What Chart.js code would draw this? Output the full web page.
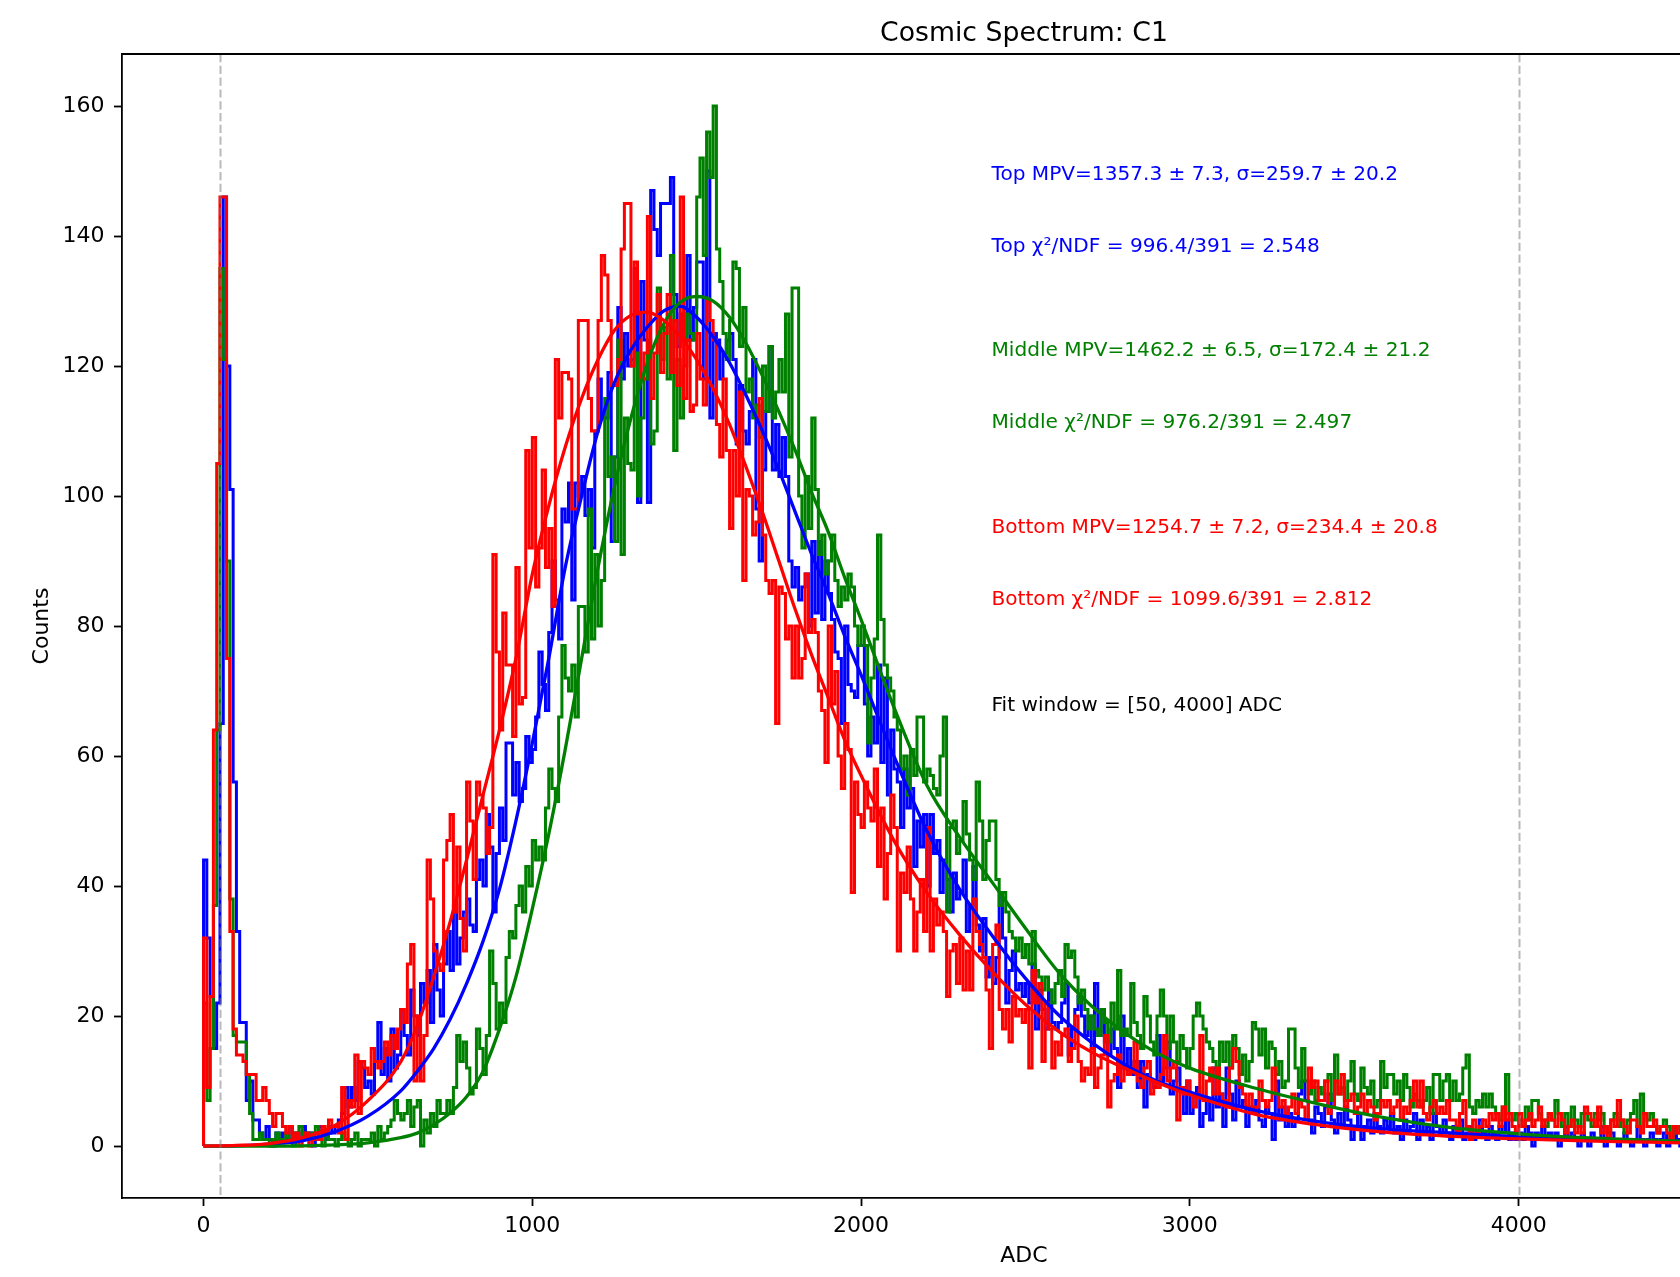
<!DOCTYPE html>
<html>
<head>
<meta charset="utf-8">
<title>Cosmic Spectrum: C1</title>
<script src="https://cdn.jsdelivr.net/npm/chart.js@4.4.0/dist/chart.umd.min.js"></script>
<style>
    html, body { margin: 0; padding: 0; background: #ffffff; overflow: hidden; }
    #wrap { width: 1680px; height: 1277px; overflow: hidden; }
    canvas { display: block; }
</style>
</head>
<body>
<div id="wrap"><canvas id="spectrumCanvas" width="1950" height="1277"></canvas></div>
<script>
// histogram bins are 10 ADC wide, starting at 0 (one row = 100 ADC)
const binWidth = 10;

const topCounts = [
    44, 32, 23, 15, 22, 65, 146, 120, 101, 56,
    33, 19, 19, 7, 10, 4, 4, 2, 1, 3,
    1, 0, 2, 1, 2, 1, 3, 1, 2, 1,
    3, 1, 2, 0, 1, 3, 2, 1, 3, 2,
    3, 4, 5, 9, 6, 9, 7, 13, 12, 9,
    10, 8, 13, 19, 11, 15, 10, 18, 12, 14,
    21, 17, 14, 24, 20, 17, 25, 22, 27, 19,
    31, 24, 20, 28, 33, 27, 37, 28, 32, 36,
    38, 34, 33, 41, 44, 40, 51, 46, 36, 45,
    52, 47, 62, 62, 54, 59, 53, 55, 63, 59,
    61, 66, 76, 71, 67, 79, 90, 84, 78, 98,
    96, 102, 84, 102, 100, 103, 97, 101, 92, 110,
    118, 112, 112, 119, 93, 106, 129, 118, 125, 120,
    121, 135, 99, 133, 124, 99, 147, 141, 137, 145,
    145, 145, 149, 131, 123, 128, 124, 137, 124, 129,
    136, 136, 118, 150, 112, 125, 124, 118, 122, 124,
    125, 121, 108, 117, 110, 108, 113, 121, 98, 90,
    104, 113, 123, 104, 111, 103, 109, 103, 90, 86,
    89, 84, 86, 88, 80, 93, 82, 93, 81, 90,
    85, 81, 76, 75, 65, 80, 71, 70, 69, 77,
    77, 68, 60, 66, 62, 74, 59, 72, 54, 64,
    58, 56, 49, 58, 52, 55, 43, 50, 46, 51,
    40, 51, 45, 47, 39, 44, 41, 36, 42, 38,
    39, 44, 33, 37, 43, 34, 30, 35, 26, 29,
    25, 29, 39, 32, 22, 27, 30, 24, 25, 23,
    25, 22, 28, 18, 24, 21, 18, 24, 19, 18,
    19, 22, 25, 14, 18, 21, 23, 20, 17, 20,
    15, 25, 17, 21, 16, 14, 18, 15, 9, 20,
    12, 15, 11, 13, 9, 13, 6, 11, 10, 9,
    17, 10, 12, 16, 8, 10, 12, 9, 5, 10,
    5, 8, 9, 3, 5, 7, 4, 12, 6, 8,
    3, 12, 8, 4, 10, 6, 7, 3, 6, 5,
    7, 4, 3, 6, 5, 1, 10, 4, 6, 3,
    5, 3, 4, 8, 10, 7, 4, 2, 6, 5,
    3, 6, 8, 4, 2, 5, 3, 6, 4, 1,
    3, 5, 1, 3, 4, 2, 5, 3, 2, 4,
    3, 5, 2, 3, 1, 4, 2, 3, 5, 1,
    4, 2, 3, 1, 5, 3, 2, 4, 2, 1,
    3, 2, 4, 1, 2, 3, 1, 2, 4, 2,
    1, 3, 2, 1, 3, 2, 4, 1, 2, 1,
    2, 1, 3, 2, 0, 2, 1, 3, 1, 2,
    1, 2, 0, 1, 3, 1, 2, 1, 0, 2,
    1, 0, 2, 1, 1, 3, 0, 1, 2, 1,
    0, 1, 2, 1, 0, 1, 3, 1, 0, 1,
    2, 1, 0, 1, 2, 0, 1, 3, 1, 0
];

const middleCounts = [
    22, 7, 15, 37, 64, 135, 121, 90, 38, 17,
    16, 16, 16, 11, 5, 1, 1, 2, 1, 1,
    0, 1, 2, 1, 1, 2, 1, 0, 2, 3,
    1, 2, 1, 2, 3, 1, 0, 2, 1, 1,
    0, 1, 2, 1, 0, 1, 2, 0, 1, 1,
    1, 2, 0, 3, 1, 2, 3, 4, 7, 5,
    4, 5, 7, 3, 6, 7, 0, 4, 2, 5,
    3, 7, 5, 5, 7, 5, 9, 17, 13, 16,
    12, 8, 9, 18, 15, 11, 17, 30, 25, 18,
    22, 19, 29, 33, 32, 37, 40, 36, 43, 40,
    47, 44, 46, 44, 52, 58, 55, 53, 66, 77,
    72, 70, 74, 66, 83, 83, 76, 98, 78, 91,
    80, 87, 115, 103, 106, 93, 124, 91, 112, 105,
    104, 122, 100, 112, 118, 124, 108, 110, 132, 121,
    126, 118, 137, 107, 121, 112, 120, 128, 125, 124,
    146, 152, 137, 156, 149, 160, 138, 133, 125, 121,
    127, 136, 135, 123, 129, 116, 118, 112, 114, 109,
    120, 113, 123, 112, 116, 121, 116, 128, 106, 132,
    132, 100, 92, 103, 95, 112, 101, 91, 94, 88,
    90, 94, 87, 83, 86, 84, 88, 86, 80, 77,
    80, 77, 62, 72, 78, 94, 81, 74, 72, 70,
    66, 64, 58, 60, 54, 61, 57, 66, 66, 56,
    58, 57, 55, 54, 60, 66, 36, 49, 50, 45,
    47, 53, 48, 44, 41, 56, 50, 41, 47, 50,
    50, 41, 37, 39, 36, 33, 32, 30, 32, 29,
    31, 28, 33, 27, 26, 24, 26, 24, 22, 25,
    27, 23, 31, 29, 30, 26, 22, 24, 21, 18,
    20, 18, 17, 21, 19, 16, 22, 18, 27, 17,
    18, 17, 25, 19, 17, 15, 23, 20, 16, 14,
    20, 24, 20, 15, 20, 16, 13, 17, 15, 12,
    15, 20, 22, 20, 18, 16, 15, 13, 11, 16,
    13, 16, 12, 17, 15, 11, 14, 10, 13, 19,
    18, 14, 18, 12, 16, 15, 11, 13, 9, 10,
    18, 18, 12, 9, 15, 10, 8, 10, 7, 9,
    8, 10, 11, 7, 14, 8, 9, 7, 10, 13,
    8, 7, 12, 9, 8, 10, 6, 7, 13, 9,
    11, 11, 8, 10, 7, 11, 9, 6, 8, 7,
    6, 7, 9, 5, 11, 11, 7, 10, 11, 7,
    10, 7, 8, 12, 14, 6, 5, 7, 6, 8,
    6, 8, 6, 5, 4, 6, 11, 5, 4, 5,
    4, 3, 6, 4, 7, 7, 5, 4, 3, 5,
    4, 7, 5, 3, 5, 3, 6, 4, 3, 5,
    5, 4, 3, 5, 4, 5, 3, 2, 4, 5,
    3, 4, 2, 4, 5, 7, 3, 8, 5, 4,
    5, 3, 2, 3, 4, 3, 1, 3, 2, 3
];

const bottomCounts = [
    32, 9, 23, 64, 105, 146, 146, 75, 33, 18,
    14, 14, 13, 11, 11, 11, 7, 7, 9, 7,
    5, 3, 5, 5, 3, 2, 3, 1, 2, 0,
    1, 2, 0, 1, 2, 1, 3, 2, 4, 3,
    3, 2, 9, 1, 7, 6, 14, 5, 13, 12,
    11, 15, 13, 12, 13, 16, 14, 17, 15, 18,
    21, 19, 28, 31, 10, 20, 10, 17, 44, 38,
    30, 28, 27, 44, 47, 51, 36, 46, 35, 30,
    56, 50, 41, 56, 54, 52, 45, 49, 91, 76,
    64, 82, 74, 74, 63, 89, 68, 69, 107, 92,
    109, 86, 92, 104, 89, 95, 83, 121, 112, 119,
    119, 118, 98, 98, 127, 127, 127, 115, 110, 110,
    127, 137, 134, 127, 117, 117, 121, 138, 145, 145,
    120, 136, 128, 118, 122, 143, 115, 122, 131, 119,
    125, 131, 119, 127, 117, 146, 115, 124, 113, 114,
    125, 118, 114, 130, 127, 124, 111, 106, 118, 107,
    95, 107, 100, 116, 87, 101, 100, 94, 96, 115,
    94, 87, 85, 87, 65, 86, 85, 78, 80, 72,
    80, 72, 75, 88, 79, 81, 79, 70, 67, 59,
    80, 68, 73, 60, 55, 65, 61, 39, 56, 51,
    49, 56, 52, 50, 58, 43, 52, 38, 45, 54,
    49, 30, 42, 39, 46, 38, 30, 36, 41, 33,
    49, 30, 38, 34, 36, 33, 23, 30, 31, 25,
    32, 24, 30, 24, 38, 33, 31, 29, 24, 15,
    31, 34, 21, 18, 21, 16, 23, 20, 21, 19,
    21, 12, 27, 22, 25, 13, 22, 18, 12, 16,
    14, 17, 18, 13, 15, 20, 13, 10, 12, 11,
    15, 9, 12, 14, 17, 6, 10, 11, 14, 10,
    12, 11, 12, 16, 10, 9, 12, 13, 8, 10,
    9, 11, 17, 10, 12, 13, 4, 9, 8, 10,
    8, 6, 8, 17, 7, 10, 12, 8, 12, 8,
    7, 6, 12, 15, 13, 9, 8, 6, 8, 5,
    6, 10, 7, 6, 7, 12, 8, 6, 7, 5,
    6, 8, 5, 7, 6, 4, 12, 9, 10, 7,
    7, 10, 5, 6, 10, 8, 11, 6, 7, 8,
    5, 6, 8, 5, 7, 6, 4, 5, 7, 6,
    7, 5, 6, 7, 4, 6, 5, 7, 10, 6,
    10, 5, 4, 6, 7, 5, 6, 5, 7, 4,
    4, 2, 5, 7, 3, 1, 4, 2, 3, 4,
    3, 5, 4, 5, 3, 6, 4, 5, 3, 2,
    5, 3, 4, 5, 3, 4, 6, 3, 4, 5,
    4, 3, 5, 4, 2, 3, 4, 2, 3, 2,
    6, 5, 4, 3, 6, 2, 3, 1, 4, 3,
    7, 4, 3, 2, 4, 4, 3, 2, 5, 3,
    3, 4, 2, 3, 3, 2, 1, 3, 2, 3
];

// fitted curves at these ADC values
const fitX = [0, 100, 200, 300, 400, 500, 600, 650, 700, 750, 800, 850, 900, 950, 1000, 1050, 1100, 1150,
    1200, 1250, 1300, 1350, 1400, 1450, 1500, 1550, 1600, 1650, 1700, 1750, 1800, 1850, 1900, 1950, 2000,
    2100, 2200, 2300, 2400, 2500, 2600, 2700, 2800, 2900, 3000, 3200, 3400, 3600, 3800, 4000, 4200, 4400, 4500];
const topFit = [0, 0.05, 0.3, 0.8, 2.2, 4.6, 8.5, 11.5, 15, 19.5, 25, 31.5, 39.5, 50, 62, 75, 89, 100,
    110, 117.5, 122.5, 126, 128.5, 129.2, 127.5, 124.5, 120.5, 115.5, 110, 104, 97.5, 91, 85, 78.5, 72.5,
    60, 48.5, 39.5, 32.3, 25.8, 20.2, 16, 12.6, 10, 8.3, 5.5, 3.7, 2.6, 2.0, 1.4, 1.0, 0.8, 0.7];
const middleFit = [0, 0, 0, 0.05, 0.2, 0.5, 1.3, 2.0, 3.3, 5.1, 7.6, 11.5, 18, 26, 36.5, 48, 61, 75,
    89, 101.5, 112, 120.5, 126.5, 129.8, 130.7, 130, 127.5, 123.5, 118.5, 113, 107, 100.5, 94.5, 87.5, 81,
    67.5, 55.5, 47.5, 40.5, 33.5, 26.8, 21.6, 17.5, 14.3, 12, 8.9, 6.4, 4.3, 2.8, 1.9, 1.3, 0.9, 0.75];
const bottomFit = [0, 0.1, 0.4, 1.3, 3.2, 7, 13, 18.5, 26, 34.5, 44, 54, 64, 75, 88, 98.5, 107.5, 115,
    121, 125.5, 127.8, 128.3, 127, 124.5, 121, 116.5, 111, 104.5, 97.5, 90, 82.5, 75.5, 69, 62.5, 57,
    47, 39, 32.5, 26.8, 21.8, 17.7, 14.5, 12, 9.8, 7.9, 4.9, 3.2, 2.1, 1.5, 1.1, 0.8, 0.6, 0.5];

const xTicks = [0, 1000, 2000, 3000, 4000, 5000];
const yTicks = [0, 20, 40, 60, 80, 100, 120, 140, 160];
const fitWindow = [50, 4000];

const titleText = 'Cosmic Spectrum: C1';
const infoTexts = [
    'Top MPV=1357.3 ± 7.3, σ=259.7 ± 20.2',
    'Top χ²/NDF = 996.4/391 = 2.548',
    'Middle MPV=1462.2 ± 6.5, σ=172.4 ± 21.2',
    'Middle χ²/NDF = 976.2/391 = 2.497',
    'Bottom MPV=1254.7 ± 7.2, σ=234.4 ± 20.8',
    'Bottom χ²/NDF = 1099.6/391 = 2.812',
    'Fit window = [50, 4000] ADC'
];
// text placement as fractions of the plot area (x from left, baseline y from top)
const infoX = 0.482;
const infoY = [0.110, 0.173, 0.264, 0.327, 0.4185, 0.4815, 0.5745];
const infoColors = ['#0000ff', '#0000ff', '#008000', '#008000', '#ff0000', '#ff0000', '#000000'];

const FONT = 'DejaVu Sans';

function histPoints(counts) {
    const pts = [{ x: 0, y: 0 }];
    counts.forEach((c, i) => pts.push({ x: i * binWidth, y: c }));
    pts.push({ x: counts.length * binWidth, y: counts[counts.length - 1] });
    return pts;
}

function fitPoints(values) {
    return fitX.map((x, i) => ({ x: x, y: values[i] }));
}

function histDataset(label, counts, color, order) {
    return {
        label: label,
        data: histPoints(counts),
        borderColor: color,
        borderWidth: 3.0,
        stepped: true,
        pointRadius: 0,
        fill: false,
        borderJoinStyle: 'miter',
        order: order
    };
}

function fitDataset(label, values, color, order) {
    return {
        label: label,
        data: fitPoints(values),
        borderColor: color,
        borderWidth: 3.3,
        cubicInterpolationMode: 'monotone',
        pointRadius: 0,
        fill: false,
        order: order
    };
}

// dashed fit-window lines, frame top, title and fit results
const overlayPlugin = {
    id: 'overlay',
    afterDatasetsDraw(chart) {
        const ctx = chart.ctx;
        const area = chart.chartArea;
        const xs = chart.scales.x;
        ctx.save();
        ctx.strokeStyle = 'rgba(128,128,128,0.55)';
        ctx.lineWidth = 2;
        ctx.setLineDash([8.2, 3.6]);
        fitWindow.forEach(v => {
            const px = Math.round(xs.getPixelForValue(v)) + 0.5;
            ctx.beginPath();
            ctx.moveTo(px, area.top);
            ctx.lineTo(px, area.bottom);
            ctx.stroke();
        });
        ctx.restore();
    },
    afterDraw(chart) {
        const ctx = chart.ctx;
        const area = chart.chartArea;
        const w = area.right - area.left;
        const h = area.bottom - area.top;
        ctx.save();
        ctx.strokeStyle = '#000';
        ctx.lineWidth = 1.8;
        ctx.beginPath();
        ctx.moveTo(area.left, area.top);
        ctx.lineTo(area.right, area.top);
        ctx.lineTo(area.right, area.bottom);
        ctx.stroke();

        ctx.fillStyle = '#000';
        ctx.font = '26.7px "' + FONT + '"';
        ctx.textAlign = 'center';
        ctx.textBaseline = 'alphabetic';
        ctx.fillText(titleText, (area.left + area.right) / 2, 41);

        ctx.font = '20.1px "' + FONT + '"';
        ctx.textAlign = 'left';
        infoTexts.forEach((t, i) => {
            ctx.fillStyle = infoColors[i];
            ctx.fillText(t, area.left + infoX * w, area.top + infoY[i] * h);
        });
        ctx.restore();
    }
};

document.addEventListener('DOMContentLoaded', function() {
    const ctx = document.getElementById('spectrumCanvas').getContext('2d');
    const tickFont = { family: FONT, size: 22 };
    new Chart(ctx, {
        type: 'line',
        data: {
            datasets: [
                histDataset('Top', topCounts, '#0000ff', 6),
                histDataset('Middle', middleCounts, '#008000', 5),
                histDataset('Bottom', bottomCounts, '#ff0000', 4),
                fitDataset('Top fit', topFit, '#0000ff', 3),
                fitDataset('Middle fit', middleFit, '#008000', 2),
                fitDataset('Bottom fit', bottomFit, '#ff0000', 1)
            ]
        },
        options: {
            responsive: false,
            animation: false,
            events: [],
            layout: { padding: { left: 0, top: 54, right: 24, bottom: 0 } },
            plugins: {
                legend: { display: false },
                tooltip: { enabled: false },
                title: { display: false }
            },
            scales: {
                x: {
                    type: 'linear',
                    bounds: 'data',
                    min: -248,
                    max: 5239,
                    afterBuildTicks: s => { s.ticks = xTicks.map(v => ({ value: v })); },
                    afterFit: s => { s.height = 79; },
                    grid: { drawOnChartArea: false, drawTicks: true, tickLength: 8, tickWidth: 1.8, tickColor: '#000' },
                    border: { display: true, color: '#000', width: 1.8 },
                    ticks: { color: '#000', font: tickFont, padding: 7, maxRotation: 0, autoSkip: false, callback: v => String(v) },
                    title: { display: true, text: 'ADC', color: '#000', font: tickFont, padding: { top: 0, bottom: 7.8 } }
                },
                y: {
                    type: 'linear',
                    bounds: 'data',
                    min: -7.98,
                    max: 168.0,
                    afterBuildTicks: s => { s.ticks = yTicks.map(v => ({ value: v })); },
                    afterFit: s => { s.width = 122; },
                    grid: { drawOnChartArea: false, drawTicks: true, tickLength: 8, tickWidth: 1.8, tickColor: '#000' },
                    border: { display: true, color: '#000', width: 1.8 },
                    ticks: { color: '#000', font: tickFont, padding: 9.5, autoSkip: false, callback: v => String(v) },
                    title: { display: true, text: 'Counts', color: '#000', font: tickFont, padding: { top: 29, bottom: 0 } }
                }
            }
        },
        plugins: [overlayPlugin]
    });
});
</script>
</body>
</html>
